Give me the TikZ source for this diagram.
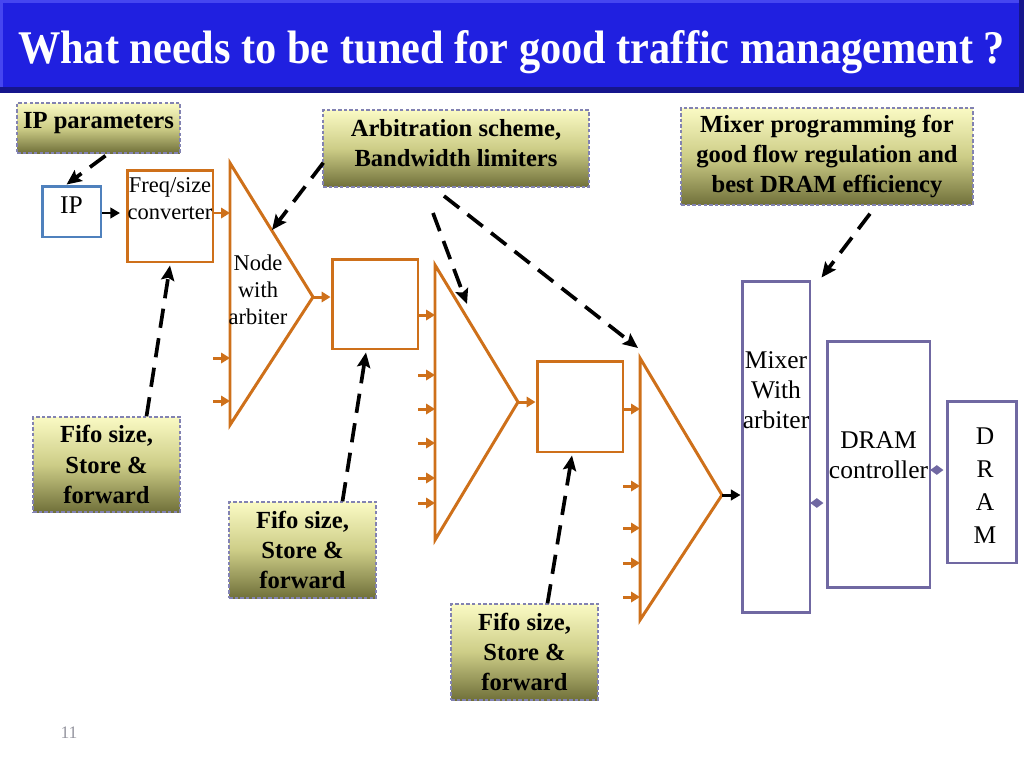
\documentclass[tikz,border=0pt]{standalone}
\usepackage{graphicx}
\usepackage{fontspec}
\setmainfont{Liberation Serif}
\usetikzlibrary{arrows.meta,calc}
\definecolor{org}{RGB}{206,112,26}
\definecolor{pur}{RGB}{112,104,162}
\definecolor{ipblue}{RGB}{79,129,189}
\definecolor{ndash}{RGB}{130,130,178}
\definecolor{ntop}{RGB}{250,250,196}
\definecolor{nmid}{RGB}{205,205,135}
\definecolor{nbot}{RGB}{112,112,58}
\definecolor{barblue}{RGB}{32,32,224}
\definecolor{barlight}{RGB}{70,70,240}
\definecolor{bardark}{RGB}{22,22,140}
\definecolor{pggray}{RGB}{150,150,160}
\tikzset{
  note/.style={draw=ndash, line width=0.8pt, dash pattern=on 2pt off 1.2pt,
    top color=ntop, bottom color=nbot, middle color=nmid,
    align=center, inner sep=0pt,
    font=\fontsize{14}{17.2}\selectfont\bfseries},
  obox/.style={draw=org, line width=1.7pt, line join=miter},
  pbox/.style={draw=pur, line width=1.7pt},
  oarrow/.style={draw=org, line width=1.7pt, -{Triangle[length=5pt,width=5.8pt]}},
  barrow/.style={draw=black, line width=1.7pt, -{Triangle[length=5.5pt,width=6pt]}},
  dasharrow/.style={draw=black, line width=2.1pt, dash pattern=on 11pt off 6pt,
    -{Stealth[length=8.5pt,width=7.5pt,inset=1.5pt]}},
  dconn/.style={draw=pur, line width=1.4pt, -{Diamond[length=7.5pt,width=5.5pt]}, shorten >=1.2pt},
  smalltxt/.style={align=center, inner sep=0pt, font=\fontsize{12.8}{15.4}\selectfont},
  regtxt/.style={align=center, inner sep=0pt, font=\fontsize{14.5}{17.2}\selectfont},
}
\begin{document}
\begin{tikzpicture}[x=0.02cm,y=-0.02cm]
\useasboundingbox (0,0) rectangle (1024,768);
% title bar
\fill[barblue] (0,0) rectangle (1024,93);
\fill[barlight] (0,0) rectangle (1024,3);
\fill[barlight] (0,0) rectangle (3,93);
\fill[bardark] (0,87) rectangle (1024,93);
\fill[bardark] (1019,0) rectangle (1024,93);
\node[anchor=base, text=white, inner sep=0pt] (title) at (511.5,63)
  {\resizebox{19.74cm}{0.66cm}{\bfseries What needs to be tuned for good traffic management ?}};

% annotation boxes
\node[note, minimum width=3.26cm, minimum height=1.0cm, text depth=9pt] (ipp) at (98.5,128) {IP parameters};
\node[note, minimum width=5.32cm, minimum height=1.54cm, text depth=6pt] (arb) at (456,148.5) {Arbitration scheme,\\Bandwidth limiters};
\node[note, minimum width=5.84cm, minimum height=1.94cm] (mixp) at (827,156.5) {Mixer programming for\\good flow regulation and\\best DRAM efficiency};
\node[note, minimum width=2.94cm, minimum height=1.9cm] (f1) at (106.5,464.5) {Fifo size,\\Store \&\\forward};
\node[note, minimum width=2.94cm, minimum height=1.92cm] (f2) at (302.5,550) {Fifo size,\\Store \&\\forward};
\node[note, minimum width=2.94cm, minimum height=1.92cm] (f3) at (524.5,652) {Fifo size,\\Store \&\\forward};

% IP and converter
\node[draw=ipblue, line width=1.7pt, minimum width=1.18cm, minimum height=1.02cm, inner sep=0pt] (ip) at (71.5,211.5) {};
\node[regtxt] (iptxt) at (71.5,205) {IP};
\node[obox, minimum width=1.72cm, minimum height=1.84cm, inner sep=0pt] (freq) at (170,216) {};
\node[smalltxt] (freqtxt) at (170,199) {Freq/size\\converter};

% buffers
\node[obox, minimum width=1.72cm, minimum height=1.8cm, inner sep=0pt] (box2) at (375,304) {};
\node[obox, minimum width=1.72cm, minimum height=1.82cm, inner sep=0pt] (box3) at (580,406.5) {};

% triangles (arbitration nodes)
\coordinate (t1a) at (230,163); \coordinate (t1b) at (313,297); \coordinate (t1c) at (230,425);
\coordinate (t2a) at (435,265); \coordinate (t2b) at (518,402); \coordinate (t2c) at (435,540);
\coordinate (t3a) at (640,358); \coordinate (t3b) at (722,495); \coordinate (t3c) at (640,620);
\draw[obox] (t1a) -- (t1b) -- (t1c) -- cycle;
\draw[obox] (t2a) -- (t2b) -- (t2c) -- cycle;
\draw[obox] (t3a) -- (t3b) -- (t3c) -- cycle;
\node[smalltxt] (t1txt) at (258,290) {Node\\with\\arbiter};

% mixer, controller, DRAM
\node[pbox, minimum width=1.36cm, minimum height=6.64cm, inner sep=0pt] (mixer) at (776,447) {};
\node[regtxt] (mixtxt) at (776,390) {Mixer\\With\\arbiter};
\node[pbox, minimum width=2.06cm, minimum height=4.94cm, inner sep=0pt] (ctrl) at (878.5,464.5) {};
\node[regtxt] (ctrltxt) at (878.5,455) {DRAM\\controller};
\node[pbox, minimum width=1.38cm, minimum height=3.24cm, inner sep=0pt] (dram) at (981.5,482) {};
\node[regtxt, font=\fontsize{14.5}{18.8}\selectfont] (dramtxt) at (985,486) {D\\R\\A\\M};

% solid connectors
\draw[barrow] (ip.east |- 0,213) -- (120,213);
\draw[oarrow] (freq.east |- 0,213) -- (t1a |- 0,213);
\foreach \y in {358,401} \draw[oarrow] (213,\y) -- (t1a |- 0,\y);
\draw[oarrow] (t1b) -- (t1b -| box2.west);
\draw[oarrow] (box2.east |- 0,315) -- (t2a |- 0,315);
\foreach \y in {375,409,443,478,503} \draw[oarrow] (418,\y) -- (t2a |- 0,\y);
\draw[oarrow] (t2b) -- (t2b -| box3.west);
\draw[oarrow] (box3.east |- 0,409) -- (t3a |- 0,409);
\foreach \y in {486,528,563,597} \draw[oarrow] (623,\y) -- (t3a |- 0,\y);
\draw[barrow] (t3b) -- (t3b -| mixer.west);
\draw[dconn] (mixer.east |- 0,503) -- (ctrl.west |- 0,503);
\draw[dconn] (ctrl.east |- 0,470) -- (dram.west |- 0,470);

% dashed annotation arrows
\coordinate (a3s) at (433,213);
\coordinate (a4s) at (444,196);
\coordinate (t1arb) at (272,230);
\coordinate (t2arb) at (467,304);
\coordinate (t3arb) at (638,348);
\draw[dasharrow] ($(ipp.south)+(7,2)$) -- ($(ip.north)+(-5,0)$);
\draw[dasharrow] ($(arb.south west)+(1,-25)$) -- (t1arb);
\draw[dasharrow] (a3s) -- (t2arb);
\draw[dasharrow] (a4s) -- (t3arb);
\draw[dasharrow] ($(mixp.south)+(43,8)$) -- ($(mixer.north east)+(10,-2)$);
\draw[dasharrow] ($(f1.north)+(40,0)$) -- ($(freq.south)+(0,2)$);
\draw[dasharrow] ($(f2.north)+(40,0)$) -- ($(box2.south)+(-9,2)$);
\draw[dasharrow] ($(f3.north)+(23,0)$) -- ($(box3.south)+(-8,2)$);

% page number
\node[text=pggray, font=\fontsize{10}{12}\selectfont, inner sep=0pt] (pg) at (69,733) {11};
\end{tikzpicture}
\end{document}
